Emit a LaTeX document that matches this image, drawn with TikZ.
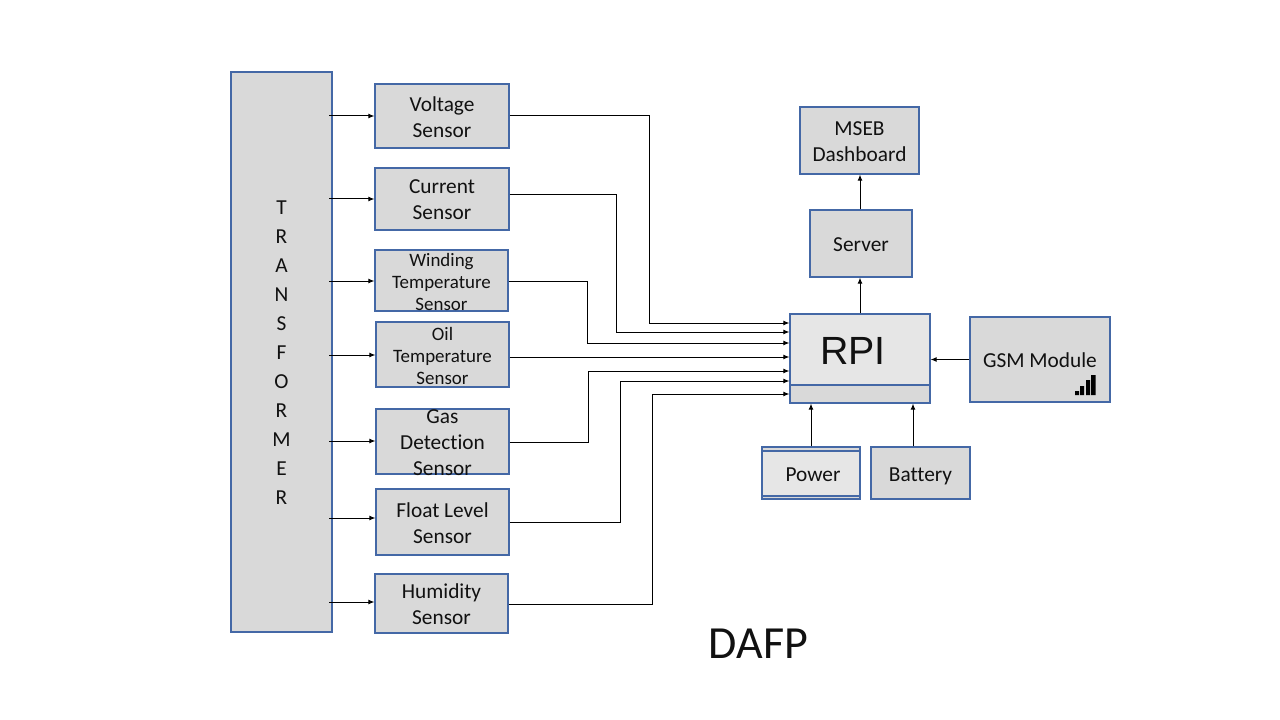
\documentclass[tikz,border=0pt]{standalone}
\usepackage{fontspec}
\setmainfont[Ligatures=NoCommon]{Carlito}
\newfontfamily\arialf{Liberation Sans}
\usetikzlibrary{arrows.meta}
\definecolor{edgeblue}{HTML}{4468A6}
\definecolor{boxgrey}{HTML}{D9D9D9}
\definecolor{boxlight}{HTML}{E6E6E6}
\definecolor{inkc}{HTML}{111111}
\newcommand\tl[3]{\makebox[0pt]{\raisebox{-.66em}{\smash{\parbox[c]{120pt}{\centering\fontsize{#1}{#2}\selectfont #3}}}}}
\tikzset{
  x=0.75pt,y=-0.75pt,
  sz/.style 2 args={minimum width=#1*0.75pt,minimum height=#2*0.75pt},
  blockbox/.style={draw=edgeblue,line width=0.8pt,fill=boxgrey,inner sep=0pt,text=inkc},
  lightbox/.style={blockbox,fill=boxlight},
  conn/.style={draw=black,line width=0.75pt,-{Latex[length=4.5pt,width=3.6pt]}},
  ys/.style={yshift=-#1*0.75pt},
  xs/.style={xshift=#1*0.75pt},
  freetext/.style={inner sep=0pt,text=inkc},
}
\begin{document}
\begin{tikzpicture}
\useasboundingbox (0,0) rectangle (1280,720);
\fill[white] (0,0) rectangle (1280,720);

\node[blockbox,sz={101}{560}] (trans) at (281.5,352) {\tl{16}{21.75}{T\\R\\A\\N\\S\\F\\O\\R\\M\\E\\R}};
\node[blockbox,sz={134}{64}] (volt) at (442,116) {\tl{16}{19.5}{Voltage\\Sensor}};
\node[blockbox,sz={134}{62}] (cur) at (442,199) {\tl{16}{19.5}{Current\\Sensor}};
\node[blockbox,sz={133}{61}] (wind) at (441.5,280.5) {\raisebox{0.75pt}{\tl{14.2}{16.5}{Winding\\Temperature\\Sensor}}};
\node[blockbox,sz={133}{65}] (oil) at (442.5,354.5) {\raisebox{0.75pt}{\tl{14.2}{16.5}{Oil\\Temperature\\Sensor}}};
\node[blockbox,sz={133}{65}] (gas) at (442.5,441.5) {\tl{16}{19.5}{Gas\\Detection\\Sensor}};
\node[blockbox,sz={133}{66}] (float) at (442.5,522) {\tl{16}{19.5}{Float Level\\Sensor}};
\node[blockbox,sz={133}{59}] (hum) at (441.5,603.5) {\tl{16}{19.5}{Humidity\\Sensor}};
\node[blockbox,sz={119}{67}] (mseb) at (859.5,140.5) {\tl{16}{19.5}{MSEB\\Dashboard}};
\node[blockbox,sz={102}{67}] (server) at (861,243.5) {\tl{16}{19.5}{Server}};

\node[lightbox,sz={140}{89}] (rpi) at (860,358.5) {};
\path[fill=boxgrey,draw=edgeblue,line width=0.8pt] (790,385) rectangle (930,403);
\node[freetext,font=\arialf\fontsize{29.5}{36}\selectfont] (rpilabel) at (853,351) {RPI};

\node[blockbox,sz={140}{85}] (gsm) at (1040,359.5) {\tl{16}{19.5}{GSM Module}};
\fill[black] (1075,391) rectangle (1079,395)
             (1080,386) rectangle (1084,395)
             (1086,380) rectangle (1090,395)
             (1091,375) rectangle (1095.5,395);

\node[blockbox,sz={98}{52}] (power) at (811,473) {};
\path[fill=boxlight,draw=edgeblue,line width=0.8pt] (762,451) rectangle (860,496);
\node[freetext,font=\fontsize{16}{18}\selectfont] (powerlabel) at (813,475) {Power};
\node[blockbox,sz={99}{52}] (batt) at (920.5,473) {\raisebox{-3pt}{\tl{16}{19.5}{Battery}}};

\node[freetext,font=\fontsize{34.5}{40}\selectfont] (title) at (758.5,643.5) {DAFP};

% transformer to sensors
\coordinate (tv) at (329,116);
\coordinate (tc) at (329,199);
\coordinate (tw) at (329,281);
\coordinate (to) at (329,355);
\coordinate (tg) at (329,441);
\coordinate (tf) at (329,518);
\coordinate (th) at (329,602);
\draw[conn] (tv) -- (volt.west);
\draw[conn] (tc) -- (cur.west);
\draw[conn] (tw) -- ([ys=0.5]wind.west);
\draw[conn] (to) -- ([ys=0.5]oil.west);
\draw[conn] (tg) -- ([ys=-0.5]gas.west);
\draw[conn] (tf) -- ([ys=-4]float.west);
\draw[conn] (th) -- ([ys=-1.5]hum.west);

% sensors to RPI
\draw[conn] (volt.east) -- ++(140,0) |- ([ys=-35.5]rpi.west);
\draw[conn] ([ys=-4]cur.east) -- ++(107,0) |- ([ys=-26.5]rpi.west);
\draw[conn] ([ys=0.5]wind.east) -- ++(79,0) |- ([ys=-15.5]rpi.west);
\draw[conn] ([ys=2.5]oil.east) -- ([ys=-1.5]rpi.west);
\draw[conn] ([ys=0.5]gas.east) -- ++(79,0) |- ([ys=12.5]rpi.west);
\draw[conn] (float.east) -- ++(111,0) |- ([ys=22.5]rpi.west);
\draw[conn] ([ys=0.5]hum.east) -- ++(144,0) |- ([ys=35.5]rpi.west);

% upward and side connections
\draw[conn] (rpi.north) -- (rpi.north |- server.south);
\draw[conn] (rpi.north |- server.north) -- (rpi.north |- mseb.south);
\draw[conn] (gsm.west) -- (rpi.east |- gsm.west);
\draw[conn] (power.north) -- (power.north |- rpi.south);
\draw[conn] ([xs=-7.5]batt.north) -- ([xs=-7.5]batt.north |- rpi.south);
\end{tikzpicture}
\end{document}
